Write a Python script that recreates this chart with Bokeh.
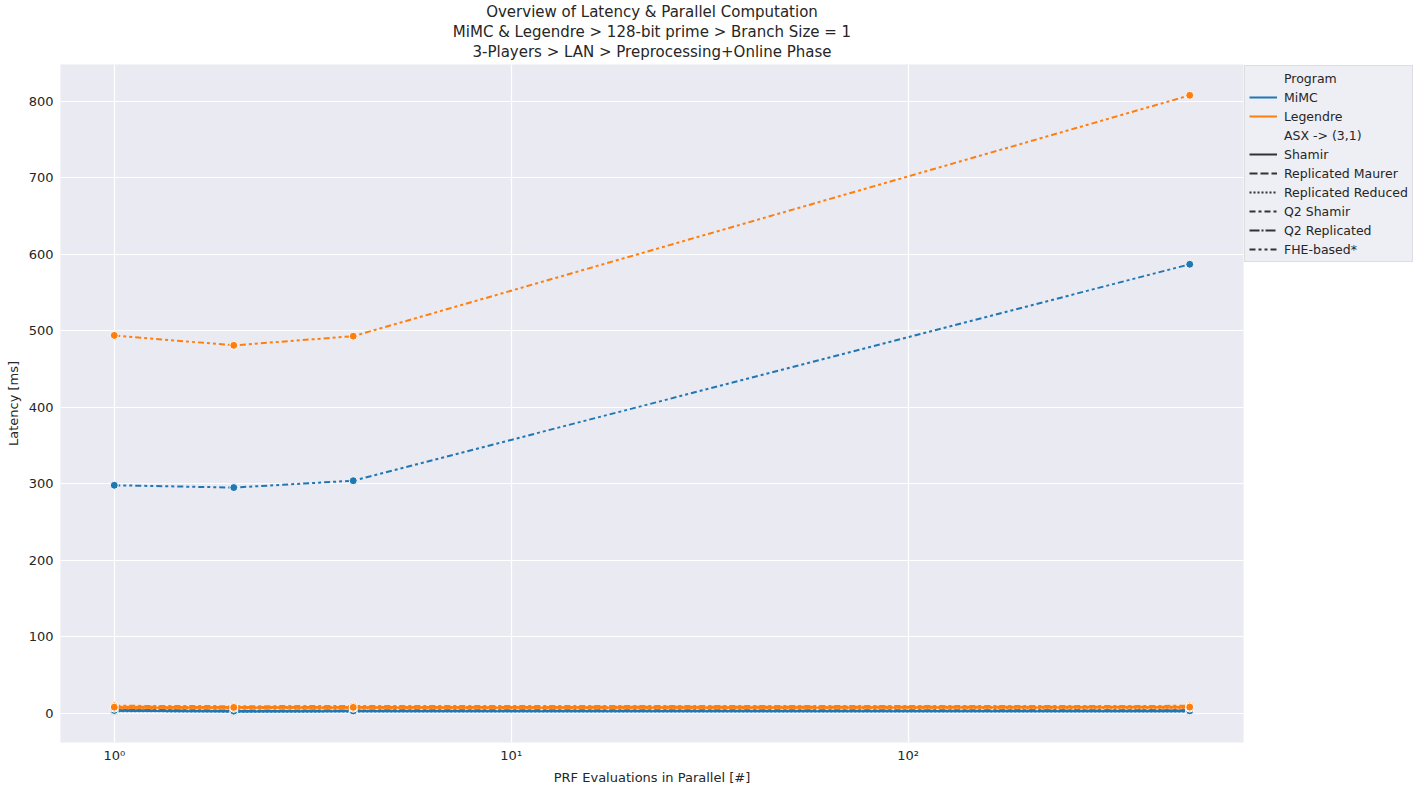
import math
from bokeh.plotting import figure
from bokeh.models import (Range1d, FixedTicker, CustomJSTickFormatter, Legend, LegendItem, Title)
from bokeh.embed import file_html
from bokeh.resources import INLINE

# ---------------- data ----------------
x_vals = [1, 2, 4, 512]
programs = ["MiMC", "Legendre"]
program_colors = ["#1f77b4", "#ff7f0e"]
styles = ["Shamir", "Replicated Maurer", "Replicated Reduced", "Q2 Shamir", "Q2 Replicated", "FHE-based*"]
style_dashes = ["solid", "8 3", "2 2", "6 3 3 3", "10 2 2 2", "6 3 3 3 3 3"]

mimc_shamir = [3.1, 2.2, 2.4, 2.6]
mimc_rep_maurer = [3.8, 2.9, 3.0, 3.3]
mimc_rep_reduced = [2.6, 1.9, 2.0, 2.2]
mimc_q2_shamir = [4.4, 3.4, 3.6, 3.9]
mimc_q2_replicated = [3.5, 2.6, 2.8, 3.0]
mimc_fhe = [298, 295, 304, 587]

leg_shamir = [7.2, 7.0, 7.1, 7.3]
leg_rep_maurer = [8.3, 8.0, 8.1, 8.4]
leg_rep_reduced = [6.5, 6.3, 6.4, 6.6]
leg_q2_shamir = [9.6, 9.1, 9.3, 9.5]
leg_q2_replicated = [7.8, 7.5, 7.6, 7.9]
leg_fhe = [494, 481, 493, 808]

series = {
    "MiMC": [mimc_shamir, mimc_rep_maurer, mimc_rep_reduced, mimc_q2_shamir, mimc_q2_replicated, mimc_fhe],
    "Legendre": [leg_shamir, leg_rep_maurer, leg_rep_reduced, leg_q2_shamir, leg_q2_replicated, leg_fhe],
}

title_lines = ["Overview of Latency & Parallel Computation",
               "MiMC & Legendre > 128-bit prime > Branch Size = 1",
               "3-Players > LAN > Preprocessing+Online Phase"]
x_label = "PRF Evaluations in Parallel [#]"
y_label = "Latency [ms]"
x_ticks = [1, 10, 100]
y_ticks = [0, 100, 200, 300, 400, 500, 600, 700, 800]

# ---------------- ranges (5% margins like matplotlib) ----------------
lx0, lx1 = math.log10(min(x_vals)), math.log10(max(x_vals))
mx = (lx1 - lx0) * 0.05
all_y = [v for prog in series.values() for s in prog for v in s]
y0, y1 = min(all_y), max(all_y)
my = (y1 - y0) * 0.05

FONT = "DejaVu Sans"
TXT = "#262626"

p = figure(frame_width=1183, frame_height=678, x_axis_type="log",
           x_range=Range1d(10 ** (lx0 - mx), 10 ** (lx1 + mx)),
           y_range=Range1d(y0 - my, y1 + my),
           output_backend="svg", toolbar_location=None,
           background_fill_color="#EAEAF2", border_fill_color="white",
           min_border_left=60, min_border_right=8, min_border_top=0, min_border_bottom=0)
p.outline_line_color = None

def style_title(t, standoff):
    t.align = "center"
    t.text_font = FONT
    t.text_font_style = "normal"
    t.text_font_size = "15px"
    t.text_color = TXT
    t.standoff = standoff
    t.offset = 0

p.title.text = title_lines[0]
style_title(p.title, 0)
spacer = Title(text=" ", text_font_size="2px", standoff=0, offset=0)
p.add_layout(spacer, "above")
t3 = Title(text=title_lines[2])
style_title(t3, 0)
p.add_layout(t3, "above")
t2 = Title(text=title_lines[1])
style_title(t2, 0)
p.add_layout(t2, "above")

for ax in [p.xaxis[0], p.yaxis[0]]:
    ax.axis_line_color = None
    ax.major_tick_line_color = None
    ax.minor_tick_line_color = None
    ax.major_tick_out = 0
    ax.major_tick_in = 0
    ax.minor_tick_out = 0
    ax.minor_tick_in = 0
    ax.major_label_text_font = FONT
    ax.major_label_text_font_size = "13px"
    ax.major_label_text_color = TXT
    ax.axis_label_text_font = FONT
    ax.axis_label_text_font_size = "13px"
    ax.axis_label_text_font_style = "normal"
    ax.axis_label_text_color = TXT

p.xaxis.axis_label = x_label
p.yaxis.axis_label = y_label
p.xaxis.ticker = FixedTicker(ticks=x_ticks, minor_ticks=[])
p.xaxis.formatter = CustomJSTickFormatter(code="""
const sup = {'0':'\u2070','1':'\u00b9','2':'\u00b2','3':'\u00b3','4':'\u2074','5':'\u2075','6':'\u2076','7':'\u2077','8':'\u2078','9':'\u2079','-':'\u207b'};
const e = Math.round(Math.log10(tick)).toString();
return '10' + e.split('').map(c => sup[c]).join('');
""")
p.yaxis.ticker = FixedTicker(ticks=y_ticks, minor_ticks=[])
p.xaxis.major_label_standoff = 5
p.yaxis.major_label_standoff = 7
p.xaxis.axis_label_standoff = 4
p.yaxis.axis_label_standoff = 5

p.xgrid.grid_line_color = "white"
p.ygrid.grid_line_color = "white"
p.xgrid.grid_line_width = 1.2
p.ygrid.grid_line_width = 1.2

# ---------------- lines ----------------
for prog, color in zip(programs, program_colors):
    for sname, dash, yv in zip(styles, style_dashes, series[prog]):
        p.line(x_vals, yv, line_color=color, line_width=2, line_dash=dash)
        p.scatter(x_vals, yv, size=8, fill_color=color, line_color="white", line_width=1)

# ---------------- legend ----------------
nan = float("nan")
items = []
blank = p.line([nan], [nan], line_alpha=0)
items.append(LegendItem(label="Program", renderers=[blank]))
for prog, color in zip(programs, program_colors):
    r = p.line([nan], [nan], line_color=color, line_width=2)
    items.append(LegendItem(label=prog, renderers=[r]))
blank2 = p.line([nan], [nan], line_alpha=0)
items.append(LegendItem(label="ASX -> (3,1)", renderers=[blank2]))
for sname, dash in zip(styles, style_dashes):
    r = p.line([nan], [nan], line_color="#333333", line_width=2, line_dash=dash)
    items.append(LegendItem(label=sname, renderers=[r]))

legend = Legend(items=items, location="top_left")
legend.label_text_font = FONT
legend.label_text_font_size = "12.5px"
legend.label_text_color = TXT
legend.glyph_width = 28
legend.glyph_height = 16
legend.label_height = 16
legend.spacing = 3
legend.label_standoff = 7
legend.padding = 4
legend.margin = 1
legend.border_line_color = "#CCCCCC"
legend.border_line_width = 1
legend.background_fill_color = "#EEEEF5"
legend.background_fill_alpha = 1.0
p.add_layout(legend, "right")

open("out.html", "w").write(file_html(p, INLINE))
